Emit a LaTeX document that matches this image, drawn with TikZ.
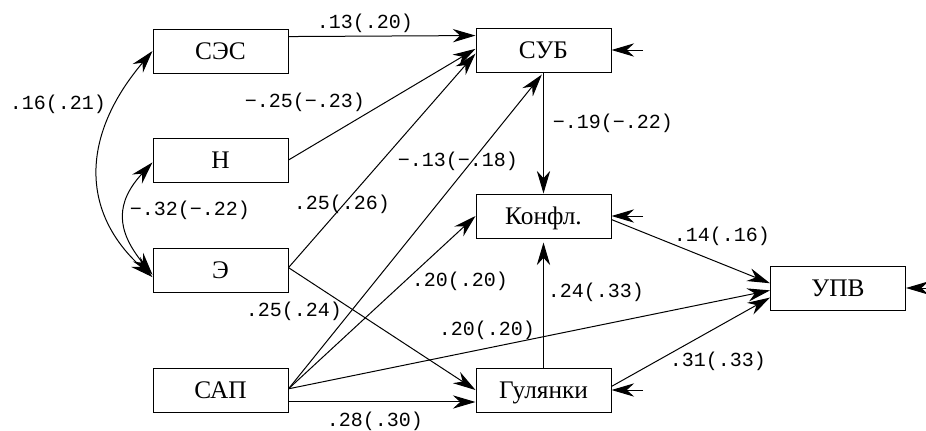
\documentclass[tikz,border=0pt]{standalone}
\usepackage{fontspec}
\setmainfont{Liberation Serif}
\setmonofont{Liberation Mono}
\usetikzlibrary{arrows.meta}

\begin{document}
\begin{tikzpicture}[x=0.75pt,y=0.75pt,yscale=-1,xscale=1,
  box/.style={draw, line width=0.75pt, minimum width=101.25pt, minimum height=33pt,
    inner sep=0pt, text height=16pt, text depth=4pt, font=\fontsize{19}{22}\selectfont},
  lbl/.style={inner sep=0pt, text height=9.3pt, text depth=0pt,
    font=\ttfamily\fontsize{15}{18}\selectfont},
  arr/.style={line width=0.75pt, -{Stealth[length=17pt,width=10pt,inset=5.5pt]}},
  biarr/.style={line width=0.75pt,
    {Stealth[length=17pt,width=10pt,inset=5.5pt]}-{Stealth[length=17pt,width=10pt,inset=5.5pt]}}]
\useasboundingbox (0,0) rectangle (926,430);
\clip (0,0) rectangle (926,430);
%Shape: Rectangle
\node[box] (ses) at (220.5,51) {СЭС};
\node[box] (neu) at (220.5,160) {Н};
\node[box] (ext) at (220.5,270) {Э};
\node[box] (sap) at (220.5,390) {САП};
\node[box] (sub) at (543.5,50) {СУБ};
\node[box] (konf) at (543.5,216) {Конфл.};
\node[box] (gul) at (543.5,390) {Гулянки};
\node[box] (upv) at (838,288) {УПВ};
%Straight Lines
\draw[arr] (ses.12.5) -- (sub.168);
\draw[arr] (neu.east) -- (sub.179);
\draw[arr] (ext.2.5) -- (sub.183);
\draw[arr, shorten >=2pt] (sap.1.7) -- (sub.south);
\draw[arr] (sap.1.7) -- (konf.west);
\draw[arr] (sap.1.7) -- (upv.182);
\draw[arr] (sap.-10) -- (gul.190);
\draw[arr] (ext.2.5) -- (gul.west);
\draw[arr] (sub.south) -- (konf.north);
\draw[arr, shorten >=3pt] (gul.north) -- (konf.south);
\draw[arr] (konf.-3.4) -- (upv.176);
\draw[arr] (gul.3.4) -- (upv.188.4);
%Error terms
\coordinate (esub) at (643,50);
\coordinate (ekonf) at (643,216);
\coordinate (egul) at (643,390);
\coordinate (eupv) at (940,288);
\draw[arr] (esub) -- (sub.east);
\draw[arr] (ekonf) -- (konf.east);
\draw[arr] (egul) -- (gul.east);
\draw[arr] (eupv) -- (upv.east);
%Curve Lines
\draw[biarr] (ses.west) .. controls +(-72,85) and +(-72,-65) .. (ext.186);
\draw[biarr] (neu.182) .. controls +(-37,40) and +(-37,-45) .. (ext.184);
%Labels
\node[lbl] (ses-sub) at (365,22) {.13(.20)};
\node[lbl] (neu-sub) at (305,101) {−.25(−.23)};
\node[lbl] (sub-konf) at (613,122) {−.19(−.22)};
\node[lbl] (sap-sub) at (458,160) {−.13(−.18)};
\node[lbl] (ext-sub) at (342,203) {.25(.26)};
\node[lbl] (ses-ext) at (58,103) {.16(.21)};
\node[lbl] (neu-ext) at (190,209) {−.32(−.22)};
\node[lbl] (ext-gul) at (294,310) {.25(.24)};
\node[lbl] (sap-konf) at (460,280) {.20(.20)};
\node[lbl] (gul-konf) at (596,291) {.24(.33)};
\node[lbl] (sap-upv) at (487,329) {.20(.20)};
\node[lbl] (sap-gul) at (375,420) {.28(.30)};
\node[lbl] (konf-upv) at (722,235) {.14(.16)};
\node[lbl] (gul-upv) at (718,360) {.31(.33)};
\end{tikzpicture}
\end{document}
